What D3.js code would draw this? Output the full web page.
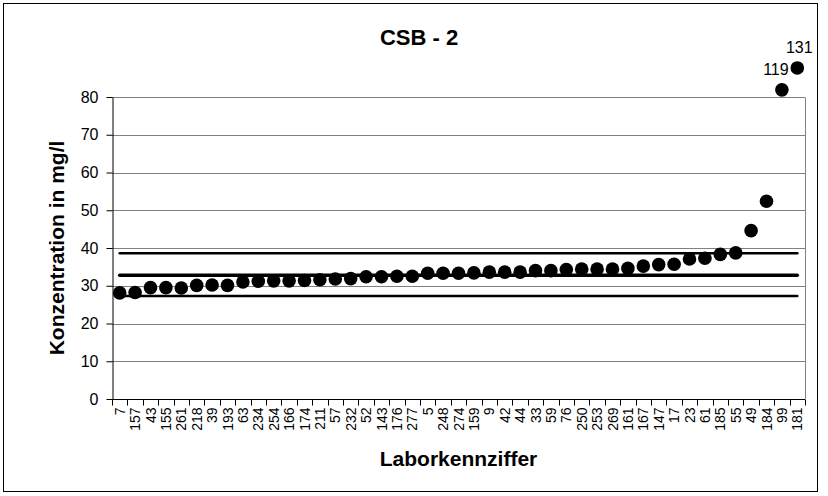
<!DOCTYPE html>
<html>
<head>
<meta charset="utf-8">
<script src="https://cdn.jsdelivr.net/npm/d3@7"></script>
<style>
  html, body { margin: 0; padding: 0; background: #fff; }
  svg { display: block; font-family: "Liberation Sans", Arial, sans-serif; }
</style>
</head>
<body>
<svg id="chart" width="828" height="496"></svg>
<script>
// ---- data ----
const labs = ["7","157","43","155","261","218","39","193","63","234","254","166","174","211","57",
  "232","52","143","176","277","5","248","274","159","9","42","44","33","59","76",
  "250","253","269","161","167","147","17","23","61","185","55","49","184","99","181"];
const values = [28.1,28.2,29.5,29.5,29.4,30.1,30.2,30.1,31.0,31.2,31.3,31.3,31.4,31.6,31.8,
  31.9,32.4,32.4,32.5,32.5,33.3,33.3,33.3,33.4,33.6,33.6,33.6,34.0,34.0,34.3,
  34.4,34.4,34.4,34.6,35.2,35.6,35.7,37.1,37.3,38.3,38.7,44.6,52.4,119,131];
// values beyond the axis range are drawn just above the plot with their value as a label
const outlierShown = {"99": 81.9, "181": 87.7};
const refLines = [38.6, 32.8, 27.3];      // upper limit, assigned value, lower limit
const refWidths = [2.5, 3.5, 2.5];
const yTicks = [0,10,20,30,40,50,60,70,80];
const title = "CSB - 2";
const xTitle = "Laborkennziffer";
const yTitle = "Konzentration in mg/l";

// ---- layout ----
const svg = d3.select("#chart");
const m = {left: 112, right: 805, top: 97, bottom: 399};

svg.append("rect").attr("x",3.5).attr("y",3.5).attr("width",814).attr("height",488)
  .attr("fill","#fff").attr("stroke","#000").attr("stroke-width",1);

const x = d3.scaleBand().domain(labs).range([m.left, m.right]).padding(0);
const y = d3.scaleLinear().domain([0,80]).range([m.bottom, m.top]);
const cx = d => x(d) + x.bandwidth()/2;

// gridlines
svg.append("g").selectAll("line").data(yTicks.filter(t => t > 0)).join("line")
  .attr("x1", m.left).attr("x2", m.right)
  .attr("y1", d => Math.round(y(d)) + 0.5).attr("y2", d => Math.round(y(d)) + 0.5)
  .attr("stroke", "#808080").attr("stroke-width", 1);
// plot right border
svg.append("line").attr("x1", m.right+0.5).attr("x2", m.right+0.5)
  .attr("y1", Math.round(y(80))+0.5).attr("y2", m.bottom)
  .attr("stroke", "#808080");

// y axis
const yAxis = svg.append("g").attr("transform", `translate(${m.left+0.5},0)`)
  .call(d3.axisLeft(y).tickValues(yTicks).tickSize(6).tickPadding(8).tickSizeOuter(0));
yAxis.selectAll("text").attr("font-size", 16).attr("fill","#000")
  .attr("font-family", "Liberation Sans, Arial, sans-serif");
yAxis.selectAll("line,path").attr("stroke","#000");

// x axis with ticks at category boundaries
const xg = svg.append("g").attr("transform", `translate(0,${m.bottom+0.5})`);
xg.append("line").attr("x1", m.left).attr("x2", m.right).attr("stroke","#000");
xg.selectAll("line.tk").data(labs.concat(["__end"])).join("line").attr("class","tk")
  .attr("x1", (d,i) => Math.round(m.left + i*x.bandwidth()) + 0.5)
  .attr("x2", (d,i) => Math.round(m.left + i*x.bandwidth()) + 0.5)
  .attr("y1", 0).attr("y2", 6).attr("stroke","#000");
xg.selectAll("text").data(labs).join("text")
  .attr("transform", d => `translate(${cx(d)+5},8) rotate(-90)`)
  .attr("text-anchor","end").attr("font-size", 14).attr("fill","#000")
  .text(d => d);

// reference lines
svg.append("g").selectAll("line").data(refLines).join("line")
  .attr("x1", cx(labs[0])).attr("x2", cx(labs[labs.length-1]))
  .attr("y1", d => y(d)).attr("y2", d => y(d))
  .attr("stroke","#000").attr("stroke-width", (d,i) => refWidths[i])
  .attr("stroke-linecap","round");

// points
const pts = labs.map((l,i) => ({lab:l, v: values[i], shown: outlierShown[l] !== undefined ? outlierShown[l] : values[i]}));
svg.append("g").selectAll("circle").data(pts).join("circle")
  .attr("cx", d => cx(d.lab)).attr("cy", d => y(d.shown)).attr("r", 6.8)
  .attr("fill","#000");

// outlier labels
svg.append("g").selectAll("text").data(pts.filter(d => d.v > 80)).join("text")
  .attr("x", d => cx(d.lab) + (d.v > 125 ? 2 : -6))
  .attr("y", d => y(d.shown) - 15)
  .attr("text-anchor","middle").attr("font-size", 16).attr("fill","#000")
  .text(d => d.v);

// titles
svg.append("text").attr("x", 419).attr("y", 45).attr("text-anchor","middle")
  .attr("font-size", 22).attr("font-weight","bold").text(title);
svg.append("text").attr("x", (m.left+m.right)/2).attr("y", 466).attr("text-anchor","middle")
  .attr("font-size", 21).attr("font-weight","bold").text(xTitle);
svg.append("text").attr("transform", `translate(64,${(m.top+m.bottom)/2}) rotate(-90)`)
  .attr("text-anchor","middle").attr("font-size", 21).attr("font-weight","bold").text(yTitle);
</script>
</body>
</html>
